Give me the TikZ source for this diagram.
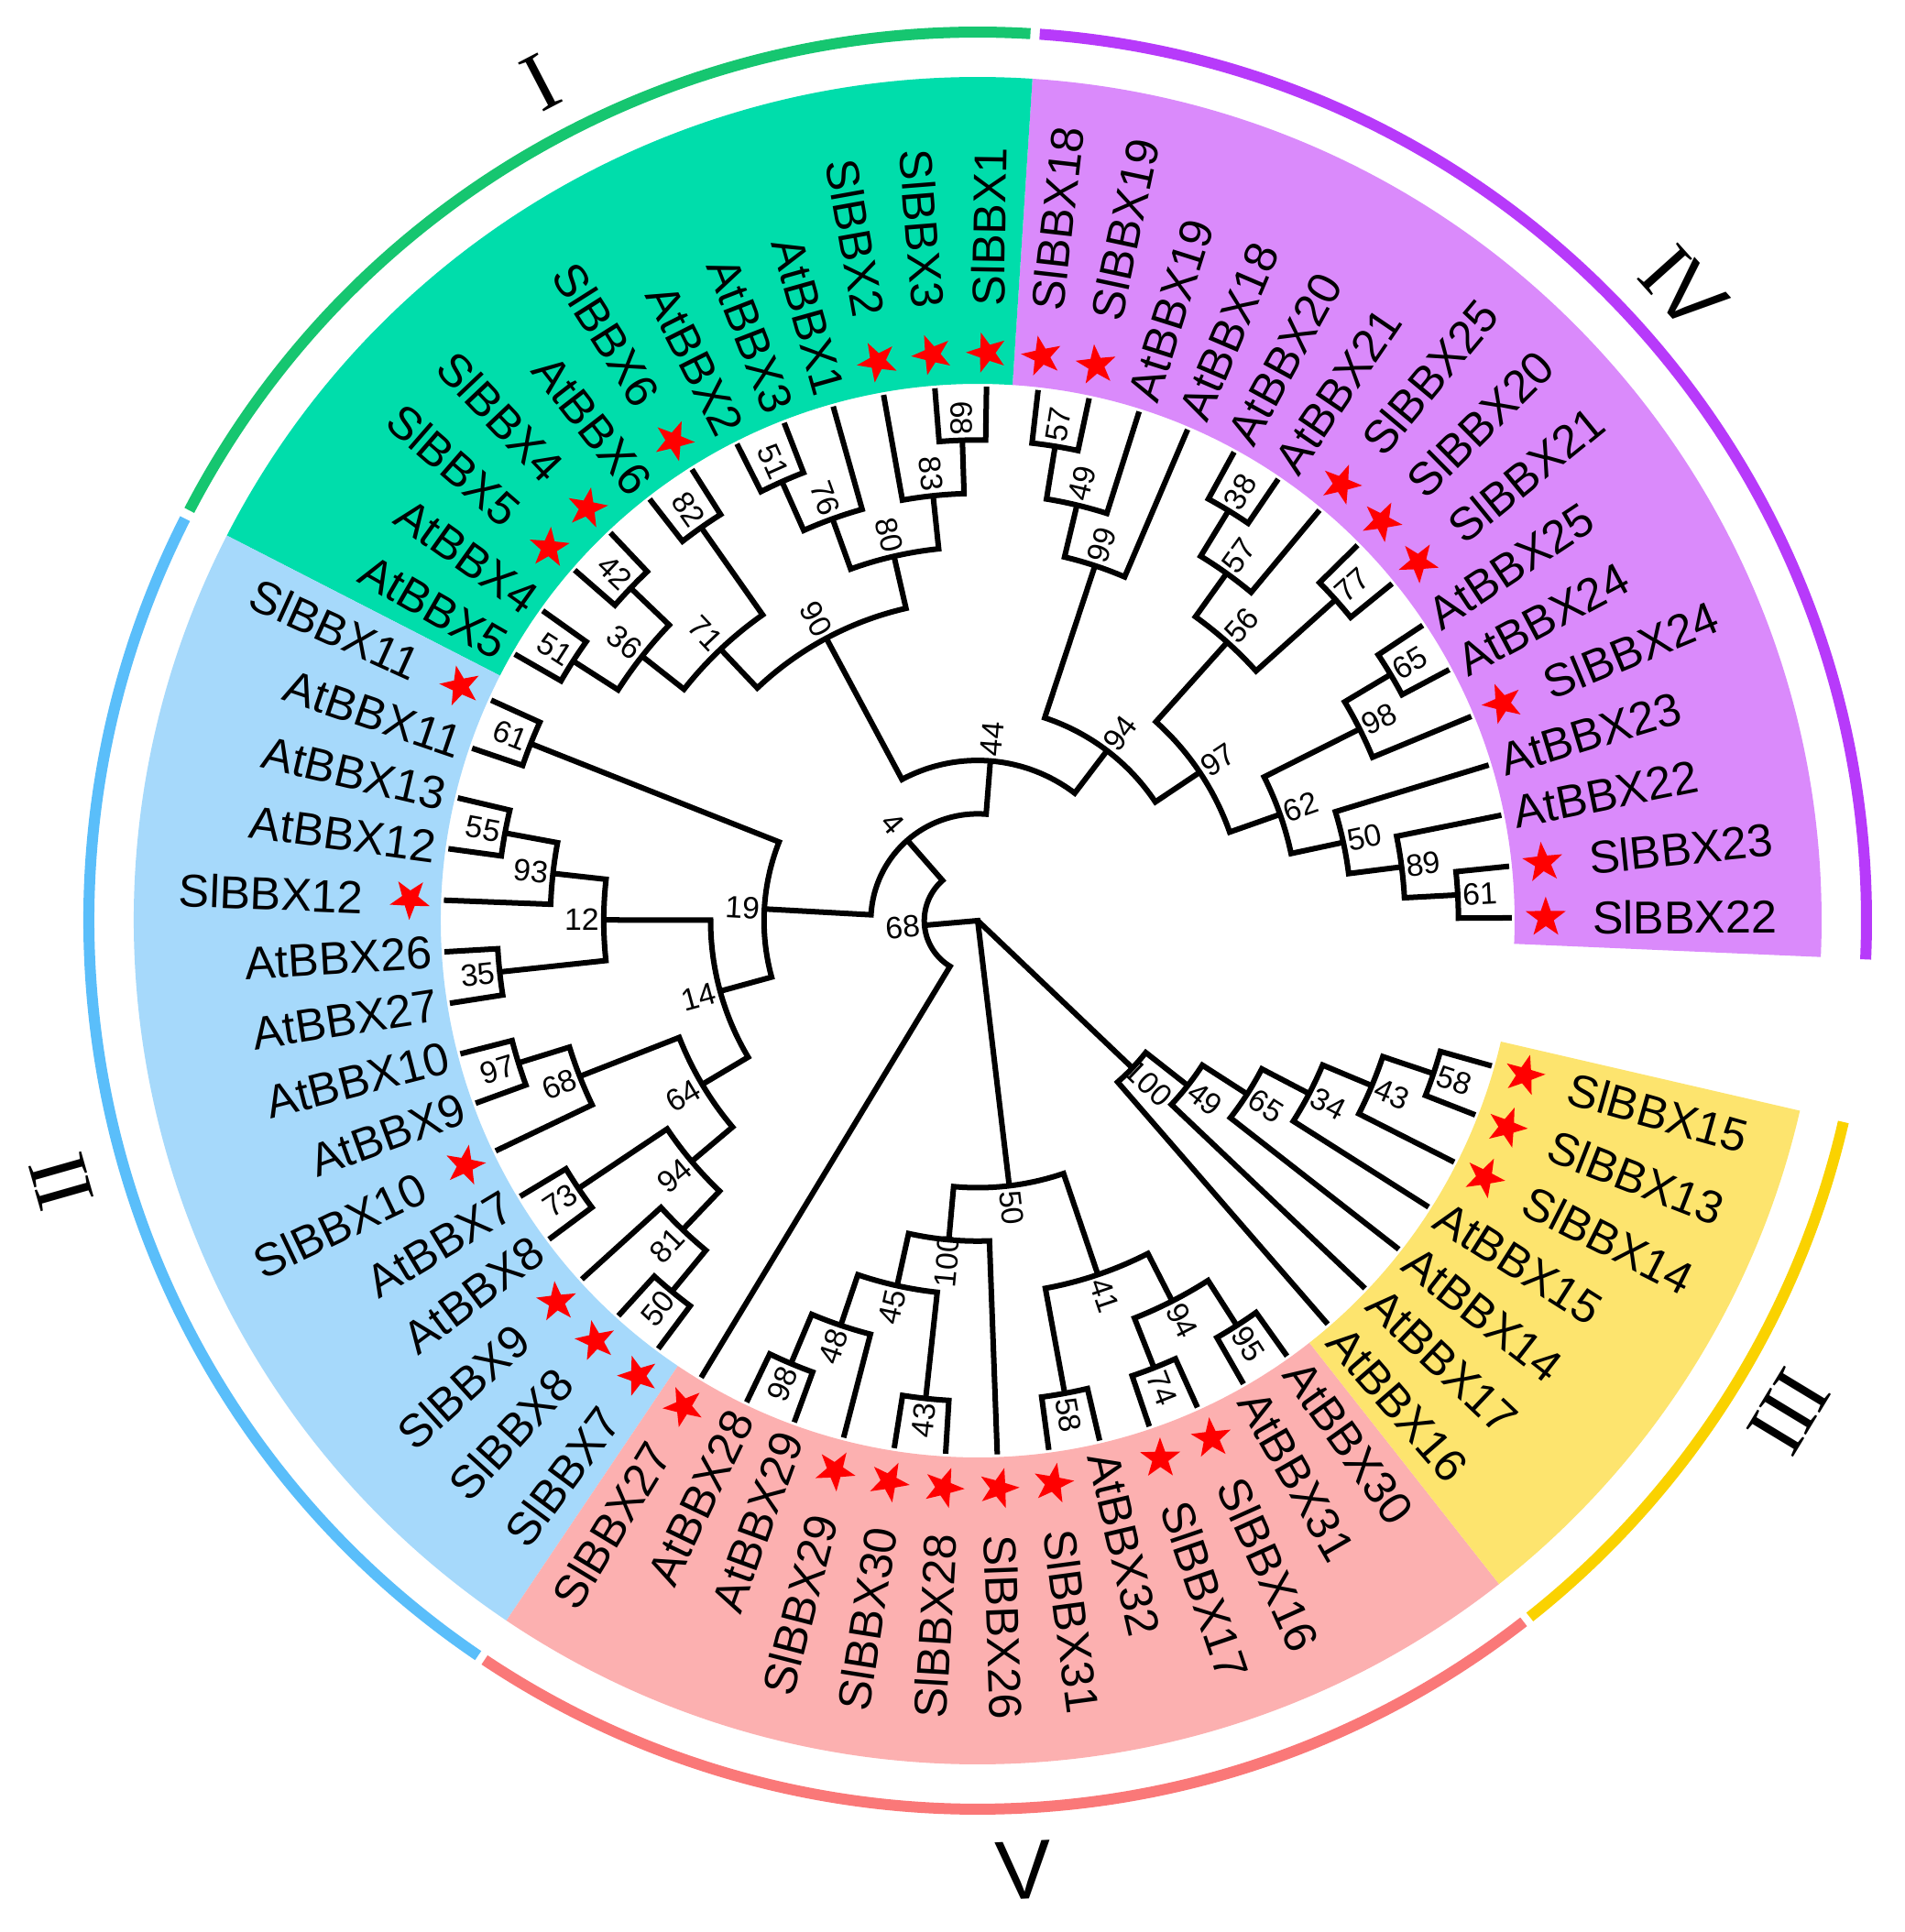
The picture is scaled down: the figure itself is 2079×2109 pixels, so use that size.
\documentclass[tikz,border=0pt]{standalone}
\usepackage{fontspec}
\setmainfont{Liberation Sans}
\newfontfamily\romserif{Liberation Serif}
\usetikzlibrary{shapes.geometric}
\definecolor{secP}{RGB}{218,138,251}
\definecolor{secG}{RGB}{0,221,171}
\definecolor{secB}{RGB}{166,217,251}
\definecolor{secR}{RGB}{252,176,176}
\definecolor{secY}{RGB}{253,228,110}
\definecolor{arcP}{RGB}{183,58,250}
\definecolor{arcG}{RGB}{22,198,112}
\definecolor{arcB}{RGB}{90,190,250}
\definecolor{arcR}{RGB}{250,120,120}
\definecolor{arcY}{RGB}{250,210,0}
\definecolor{starred}{RGB}{255,0,0}
\tikzset{
 br/.style={line width=0.06cm, line join=miter, black},
 bs/.style={font=\fontsize{9.6pt}{11pt}\selectfont, inner sep=0pt, outer sep=0pt},
 lf/.style={font=\fontsize{14.3pt}{16pt}\selectfont, inner sep=0pt, outer sep=0pt},
 stardot/.style={star, star points=5, star point ratio=2.5, fill=starred, draw=none, minimum size=0.46cm, inner sep=0pt},
 roman/.style={font=\fontsize{26pt}{30pt}\selectfont, inner sep=0pt},
 cladearc/.style={line width=0.12cm},
}
% bootstrap label: name, angle, radius, text
\newcommand\bslab[4]{%
 \pgfmathtruncatemacro\bleft{cos(#2)<0}%
 \ifnum\bleft=1 \pgfmathsetmacro\brot{#2-180}\else\pgfmathsetmacro\brot{#2}\fi
 \node[bs, rotate=\brot] (bs#1) at (#2:#3+24) {#4};}
% clade node: name, radius, child1, angle1, child2, angle2, mid angle, bootstrap
\newcommand\cladenode[8]{%
 \draw[br] (#3) -- (#4:#2) arc[start angle=#4, end angle=#6, radius=#2] -- (#5);
 \coordinate (#1) at (#7:#2);
 \bslab{#1}{#7}{#2}{#8}}
% leaf text: index, text, radius
\newcommand\leaftext[3]{%
 \pgfmathsetmacro\lang{0.3+5.547*#1}%
 \pgfmathtruncatemacro\lleft{cos(\lang)<0}%
 \ifnum\lleft=1
  \pgfmathsetmacro\lrot{\lang-180}%
  \node[lf, anchor=east, rotate=\lrot] (lab#1) at (\lang:#3) {#2};%
 \else
  \node[lf, anchor=west, rotate=\lang] (lab#1) at (\lang:#3) {#2};%
 \fi}
\newcommand\slleaf[2]{%
 \leaftext{#1}{#2}{671}%
 \pgfmathsetmacro\sang{0.3+5.547*#1}%
 \node[stardot, rotate=\sang] (st#1) at (\sang:620) {};}
\newcommand\atleaf[2]{\leaftext{#1}{#2}{597}}
\newcommand\mysector[3]{\fill[#1] (#2:586) arc[start angle=#2, end angle=#3, radius=586] -- (#3:921) arc[start angle=#3, end angle=#2, radius=921] -- cycle;}
\newcommand\mycarc[3]{\draw[cladearc, #1] (#2:970) arc[start angle=#2, end angle=#3, radius=970];}

\begin{document}
\begin{tikzpicture}[x=0.01cm, y=0.01cm]
\fill[white] (-1067,-1104) rectangle (1012,1005);
\useasboundingbox (-1067,-1104) rectangle (1012,1005);

% coloured sectors
\mysector{secP}{-2.47}{86.28}
\mysector{secG}{86.28}{152.84}
\mysector{secB}{152.84}{236.05}
\mysector{secR}{236.05}{308.16}
\mysector{secY}{308.16}{346.98}

% outer clade arcs
\mycarc{arcP}{-2.5}{86.0}
\mycarc{arcG}{86.6}{152.5}
\mycarc{arcB}{153.1}{235.8}
\mycarc{arcR}{236.3}{307.9}
\mycarc{arcY}{308.4}{346.9}

% roman numerals
\node[roman, rotate=27.5] (rI) at (117.5:1032) {\romserif I};
\node[roman, rotate=285.9] (rII) at (195.9:1040) {\romserif I\kern-0.03em I};
\node[roman, rotate=58.8] (rIII) at (328.8:1035) {\romserif I\kern-0.03em I\kern-0.03em I};
\node[roman, rotate=-48.1] (rIV) at (41.9:1035) {{\romserif I}\kern-0.04em V};
\node[roman, rotate=2.8] (rV) at (272.8:1038) {V};

% leaf tips
\foreach \i in {0,...,62} {\coordinate (t\i) at ({0.3+5.547*\i}:583);}
\coordinate (root) at (0,0);

% clade IV
\cladenode{p61}{524.7}{t0}{0.30}{t1}{5.85}{3.07}{61}
\cladenode{p89}{466.4}{p61}{3.07}{t2}{11.39}{7.23}{89}
\cladenode{p50}{408.1}{p89}{7.23}{t3}{16.94}{12.09}{50}
\cladenode{p65}{524.7}{t5}{28.04}{t6}{33.58}{30.81}{65}
\cladenode{p98}{466.4}{t4}{22.49}{p65}{30.81}{26.65}{98}
\cladenode{p62}{349.8}{p50}{12.09}{p98}{26.65}{19.37}{62}
\cladenode{p77}{524.7}{t7}{39.13}{t8}{44.68}{41.90}{77}
\cladenode{p38}{524.7}{t10}{55.77}{t11}{61.32}{58.55}{38}
\cladenode{p57}{466.4}{t9}{50.22}{p38}{58.55}{54.38}{57}
\cladenode{p56}{408.1}{p77}{41.90}{p57}{54.38}{48.14}{56}
\cladenode{p97}{291.5}{p62}{19.37}{p56}{48.14}{33.76}{97}
\cladenode{p57b}{524.7}{t14}{77.96}{t15}{83.51}{80.73}{57}
\cladenode{p49}{466.4}{t13}{72.41}{p57b}{80.73}{76.57}{49}
\cladenode{p99}{408.1}{t12}{66.86}{p49}{76.57}{71.72}{99}
\cladenode{p94}{233.2}{p97}{33.76}{p99}{71.72}{52.74}{94}
% clade I
\cladenode{g68}{524.7}{t16}{89.05}{t17}{94.60}{91.83}{68}
\cladenode{g83}{466.4}{g68}{91.83}{t18}{100.15}{95.99}{83}
\cladenode{g51}{524.7}{t20}{111.24}{t21}{116.79}{114.02}{51}
\cladenode{g76}{466.4}{t19}{105.69}{g51}{114.02}{109.86}{76}
\cladenode{g80}{408.1}{g83}{95.99}{g76}{109.86}{102.93}{80}
\cladenode{g82}{524.7}{t22}{122.33}{t23}{127.88}{125.11}{82}
\cladenode{g42}{524.7}{t24}{133.43}{t25}{138.98}{136.21}{42}
\cladenode{g51b}{524.7}{t26}{144.52}{t27}{150.07}{147.30}{51}
\cladenode{g36}{466.4}{g42}{136.21}{g51b}{147.30}{141.76}{36}
\cladenode{g71}{408.1}{g82}{125.11}{g36}{141.76}{133.44}{71}
\cladenode{g90}{349.8}{g80}{102.93}{g71}{133.44}{118.19}{90}
\cladenode{n44}{174.9}{p94}{52.74}{g90}{118.19}{85.47}{44}
% clade II
\cladenode{b61}{524.7}{t28}{155.62}{t29}{161.16}{158.39}{61}
\cladenode{b55}{524.7}{t30}{166.71}{t31}{172.26}{169.49}{55}
\cladenode{b93}{466.4}{b55}{169.49}{t32}{177.80}{173.65}{93}
\cladenode{b35}{524.7}{t33}{183.35}{t34}{188.90}{186.13}{35}
\cladenode{b12}{408.1}{b93}{173.65}{b35}{186.13}{179.89}{12}
\cladenode{b97}{524.7}{t35}{194.45}{t36}{199.99}{197.22}{97}
\cladenode{b68}{466.4}{b97}{197.22}{t37}{205.54}{201.38}{68}
\cladenode{b73}{524.7}{t38}{211.09}{t39}{216.63}{213.86}{73}
\cladenode{b50}{524.7}{t41}{227.73}{t42}{233.27}{230.50}{50}
\cladenode{b81}{466.4}{t40}{222.18}{b50}{230.50}{226.34}{81}
\cladenode{b94}{408.1}{b73}{213.86}{b81}{226.34}{220.10}{94}
\cladenode{b64}{349.8}{b68}{201.38}{b94}{220.10}{210.74}{64}
\cladenode{b14}{291.5}{b12}{179.89}{b64}{210.74}{195.32}{14}
\cladenode{b19}{233.2}{b61}{158.39}{b14}{195.32}{176.86}{19}
\cladenode{n4}{116.6}{n44}{85.47}{b19}{176.86}{131.17}{4}
\cladenode{n68}{58.3}{n4}{131.17}{t43}{238.82}{185.00}{68}
% clade V
\cladenode{r98}{524.7}{t44}{244.37}{t45}{249.92}{247.15}{98}
\cladenode{r48}{466.4}{r98}{247.15}{t46}{255.46}{251.31}{48}
\cladenode{r43}{524.7}{t47}{261.01}{t48}{266.56}{263.79}{43}
\cladenode{r45}{408.1}{r48}{251.31}{r43}{263.79}{257.55}{45}
\cladenode{r100}{349.8}{r45}{257.55}{t49}{272.10}{264.83}{100}
\cladenode{r58}{524.7}{t50}{277.65}{t51}{283.20}{280.43}{58}
\cladenode{r74}{524.7}{t52}{288.74}{t53}{294.29}{291.52}{74}
\cladenode{r95}{524.7}{t54}{299.84}{t55}{305.38}{302.61}{95}
\cladenode{r94}{466.4}{r74}{291.52}{r95}{302.61}{297.07}{94}
\cladenode{r41}{408.1}{r58}{280.43}{r94}{297.07}{288.75}{41}
\cladenode{r50}{291.5}{r100}{264.83}{r41}{288.75}{276.79}{50}
% clade III
\cladenode{y58}{524.7}{t61}{338.67}{t62}{344.21}{341.44}{58}
\cladenode{y43}{466.4}{t60}{333.12}{y58}{341.44}{337.28}{43}
\cladenode{y34}{408.1}{t59}{327.57}{y43}{337.28}{332.43}{34}
\cladenode{y65}{349.8}{t58}{322.03}{y34}{332.43}{327.23}{65}
\cladenode{y49}{291.5}{t57}{316.48}{y65}{327.23}{321.86}{49}
\cladenode{y100}{233.2}{t56}{310.93}{y49}{321.86}{316.40}{100}
% root
\draw[br] (n68) -- (root) -- (r50);
\draw[br] (root) -- (y100);

% leaves
\slleaf{0}{SlBBX22}
\slleaf{1}{SlBBX23}
\atleaf{2}{AtBBX22}
\atleaf{3}{AtBBX23}
\slleaf{4}{SlBBX24}
\atleaf{5}{AtBBX24}
\atleaf{6}{AtBBX25}
\slleaf{7}{SlBBX21}
\slleaf{8}{SlBBX20}
\slleaf{9}{SlBBX25}
\atleaf{10}{AtBBX21}
\atleaf{11}{AtBBX20}
\atleaf{12}{AtBBX18}
\atleaf{13}{AtBBX19}
\slleaf{14}{SlBBX19}
\slleaf{15}{SlBBX18}
\slleaf{16}{SlBBX1}
\slleaf{17}{SlBBX3}
\slleaf{18}{SlBBX2}
\atleaf{19}{AtBBX1}
\atleaf{20}{AtBBX3}
\atleaf{21}{AtBBX2}
\slleaf{22}{SlBBX6}
\atleaf{23}{AtBBX6}
\slleaf{24}{SlBBX4}
\slleaf{25}{SlBBX5}
\atleaf{26}{AtBBX4}
\atleaf{27}{AtBBX5}
\slleaf{28}{SlBBX11}
\atleaf{29}{AtBBX11}
\atleaf{30}{AtBBX13}
\atleaf{31}{AtBBX12}
\slleaf{32}{SlBBX12}
\atleaf{33}{AtBBX26}
\atleaf{34}{AtBBX27}
\atleaf{35}{AtBBX10}
\atleaf{36}{AtBBX9}
\slleaf{37}{SlBBX10}
\atleaf{38}{AtBBX7}
\atleaf{39}{AtBBX8}
\slleaf{40}{SlBBX9}
\slleaf{41}{SlBBX8}
\slleaf{42}{SlBBX7}
\slleaf{43}{SlBBX27}
\atleaf{44}{AtBBX28}
\atleaf{45}{AtBBX29}
\slleaf{46}{SlBBX29}
\slleaf{47}{SlBBX30}
\slleaf{48}{SlBBX28}
\slleaf{49}{SlBBX26}
\slleaf{50}{SlBBX31}
\atleaf{51}{AtBBX32}
\slleaf{52}{SlBBX17}
\slleaf{53}{SlBBX16}
\atleaf{54}{AtBBX31}
\atleaf{55}{AtBBX30}
\atleaf{56}{AtBBX16}
\atleaf{57}{AtBBX17}
\atleaf{58}{AtBBX14}
\atleaf{59}{AtBBX15}
\slleaf{60}{SlBBX14}
\slleaf{61}{SlBBX13}
\slleaf{62}{SlBBX15}
\end{tikzpicture}
\end{document}
